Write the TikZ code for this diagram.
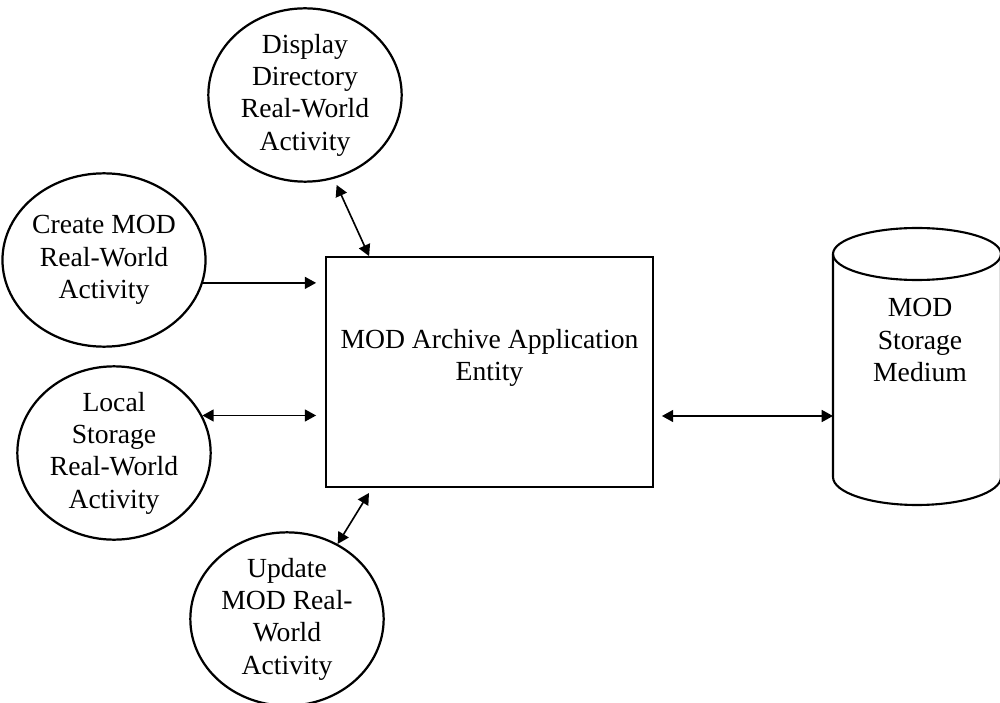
\documentclass[tikz,border=0pt]{standalone}
\usepackage{fontspec}
\setmainfont{Liberation Serif}
\usetikzlibrary{shapes.geometric,arrows.meta}

\begin{document}
\begin{tikzpicture}[
    activity/.style={draw, ellipse, line width=1.9pt, minimum width=5.8cm,
      minimum height=5.2cm, inner sep=0pt, align=center},
    entity/.style={draw, rectangle, line width=1.5pt, minimum width=9.81cm,
      minimum height=6.9cm},
    label/.style={align=center, inner sep=0pt},
    flow/.style={line width=1.4pt, -{Triangle[length=3.4mm,width=3.6mm]}},
    biflow/.style={line width=1.4pt,
      {Triangle[length=3.4mm,width=3.6mm]}-{Triangle[length=3.4mm,width=3.6mm]}},
    font=\fontsize{23.6}{27.6}\selectfont]
      \useasboundingbox (0,0) rectangle (30,21.06);
      \draw
        (9.15,18.21) node[activity] (disp){Display\\Directory\\Real-World\\Activity}
        (3.12,13.26) node[activity] (create){Create MOD\\Real-World\\Activity}
        (3.42,7.47) node[activity] (local){Local\\Storage\\Real-World\\Activity}
        (8.61,2.49) node[activity] (upd){Update\\MOD Real-\\World\\Activity}
        (14.685,9.9) node[entity] (ae){};
      \node[label] (aetext) at ([yshift=-3.06cm]ae.north) {MOD Archive Application\\Entity};
      % storage medium
      \draw[line width=1.8pt] (27.51,13.44) ellipse [x radius=2.52cm, y radius=0.78cm];
      \draw[line width=1.8pt] (24.99,13.44) -- (24.99,6.75)
        arc[start angle=180, end angle=360, x radius=2.52cm, y radius=0.84cm] -- (30.03,13.44);
      \node[label] (med) at (27.6,10.86) {MOD\\Storage\\Medium};
      \coordinate (medL) at (24.99,8.58);
      \begin{scope}[shorten >=0.27cm]
        \draw[flow] (create.-13) to (create.-13 -| ae.west);
        \draw[biflow] (local.23) to (local.23 -| ae.west);
      \end{scope}
      \draw[biflow, shorten <=0.24cm] (ae.east |- medL) to (medL);
      \draw[biflow, shorten >=0.2cm] ([xshift=1.32cm]ae.north west) to (disp.-71);
      \draw[biflow, shorten <=0.18cm] ([xshift=1.41cm]ae.south west) to (upd.56);
    \end{tikzpicture}
\end{document}
